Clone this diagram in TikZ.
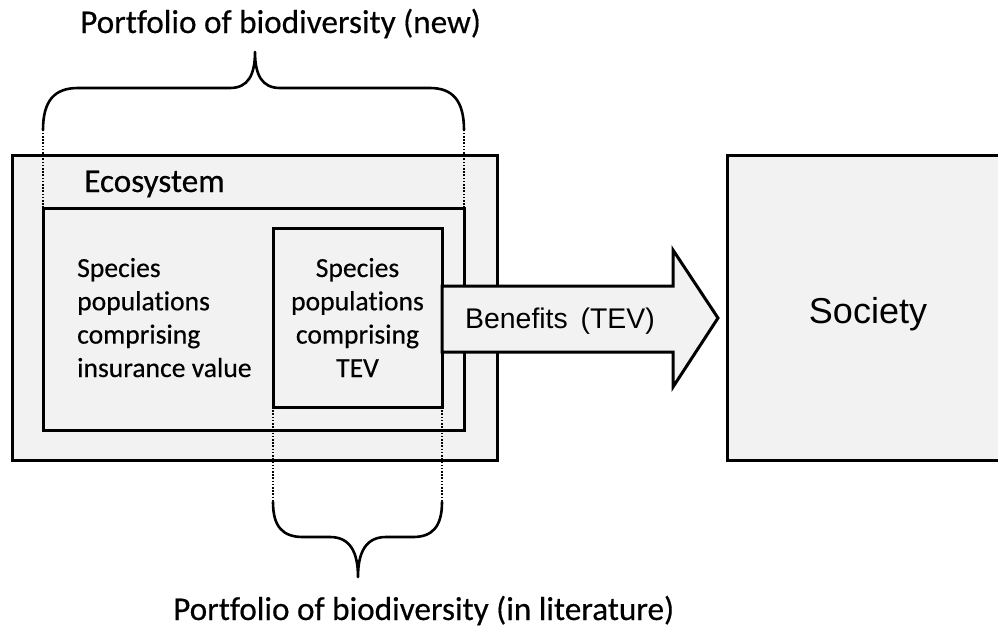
\documentclass[tikz,border=0pt]{standalone}
\usepackage{fontspec}
\setmainfont[Ligatures=CommonOff, FakeBold=0.4]{Carlito}
\newfontfamily\arialfont{Liberation Sans}
\definecolor{boxfill}{HTML}{F2F2F2}
\tikzset{
  panel/.style={draw=black, line width=3pt, fill=boxfill, rectangle,
    inner sep=0pt, outer sep=0pt, anchor=north west},
  guide/.style={line width=1.6pt, dash pattern=on 1.6pt off 1.6pt},
  brace/.style={line width=2.6pt, line cap=round, line join=round},
  benefitarrow/.style={draw=black, line width=3pt, fill=boxfill, line join=miter},
  titletext/.style={font=\fontsize{33.2pt}{40pt}\selectfont, inner sep=0pt, anchor=base west},
  bodyleft/.style={font=\fontsize{27.6pt}{33pt}\selectfont, inner sep=0pt, anchor=base west},
  bodycentre/.style={font=\fontsize{27.6pt}{33pt}\selectfont, inner sep=0pt, anchor=base},
  arialtext/.style={font=\arialfont\fontsize{28.4pt}{34pt}\selectfont, inner sep=0pt, anchor=base west},
  societytext/.style={font=\arialfont\fontsize{36pt}{43pt}\selectfont, inner sep=0pt, anchor=base}
}
\begin{document}
\begin{tikzpicture}[x=1pt,y=-1pt]
\useasboundingbox (0,0) rectangle (998,627);
\clip (0,0) rectangle (998,627);

% boxes
\node[panel, minimum width=485pt, minimum height=305pt] (eco) at (12,155) {};
\node[panel, minimum width=421pt, minimum height=222pt] (inner) at (43,208) {};
\node[panel, minimum width=169pt, minimum height=179pt] (tev) at (273,228) {};
\node[panel, minimum width=300pt, minimum height=305pt] (society) at (727,155) {};

% dotted guides to the braces
\coordinate (topl) at (43,130);
\coordinate (topr) at (464,130);
\coordinate (botl) at (273,502);
\coordinate (botr) at (442,502);
\draw[guide] (inner.north west) -- (topl);
\draw[guide] (inner.north east) -- (topr);
\draw[guide] (tev.south west) -- (botl);
\draw[guide] (tev.south east) -- (botr);

% braces
\draw[brace] (topl) .. controls (43,100) and (55,88) .. (78,88) -- (230,88)
  .. controls (248,88) and (255,75) .. (255,52)
  .. controls (255,75) and (262,88) .. (280,88) -- (430,88)
  .. controls (452,88) and (464,100) .. (topr);
\draw[brace] (botl) .. controls (273,527) and (283,537) .. (303,537) -- (330,537)
  .. controls (350,537) and (358,552) .. (358,577)
  .. controls (358,552) and (366,537) .. (386,537) -- (413,537)
  .. controls (432,537) and (442,527) .. (botr);

% benefits arrow
\draw[benefitarrow] (tev.east |- 0,286) -- (673,286) -- (673,250) -- (718,318)
  -- (673,387) -- (673,352) -- (tev.east |- 0,352) -- cycle;

% labels
\node[titletext] (newtitle) at (80,33) {Portfolio of biodiversity (new)};
\node[titletext] (littitle) at (173,620) {Portfolio of biodiversity (in literature)};
\node[titletext] (ecolabel) at (84,192) {Ecosystem};

\node[bodyleft] (ins1) at (77,277) {Species};
\node[bodyleft] (ins2) at (77,310.3) {populations};
\node[bodyleft] (ins3) at (77,343.6) {comprising};
\node[bodyleft] (ins4) at (77,377) {insurance value};

\node[bodycentre] (tev1) at (357.5,277) {Species};
\node[bodycentre] (tev2) at (357.5,310.3) {populations};
\node[bodycentre] (tev3) at (357.5,343.6) {comprising};
\node[bodycentre] (tev4) at (357.5,377) {TEV};

\node[arialtext] (benefits) at (465,328) {Benefits\hspace{0.45em}(TEV)};
\node[societytext] (soclabel) at (868,323) {Society};
\end{tikzpicture}
\end{document}
